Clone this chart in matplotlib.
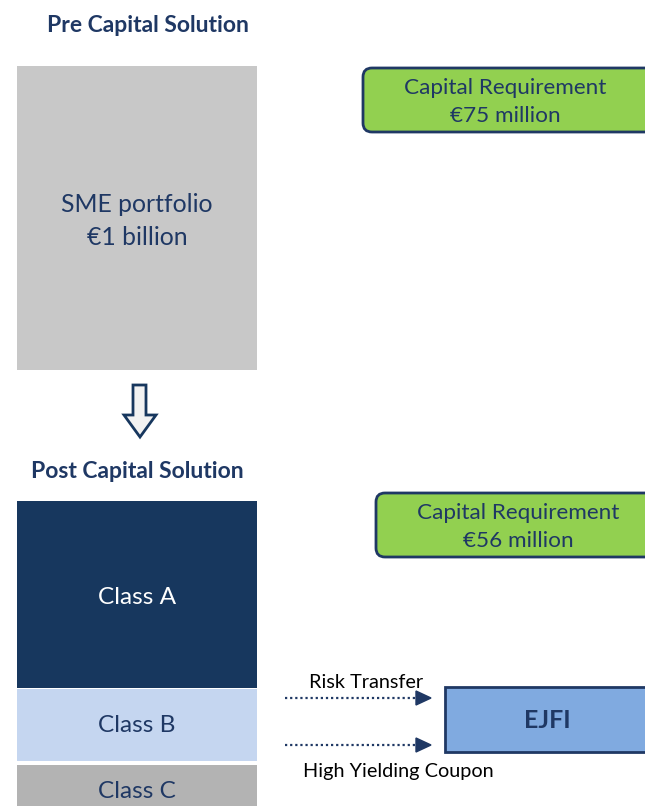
import matplotlib
matplotlib.use("Agg")
import matplotlib.pyplot as plt
from matplotlib.patches import Rectangle, FancyBboxPatch, Polygon

# ---- content ----
pre_title = "Pre Capital Solution"
post_title = "Post Capital Solution"
portfolio_label = ["SME portfolio", "€1 billion"]
capital_pre = 75
capital_post = 56
tranches = ["Class A", "Class B", "Class C"]
flows = ["Risk Transfer", "High Yielding Coupon"]
investor = "EJFI"

NAVY = "#1F3864"
DARK = "#17375E"
GREEN = "#92D050"
FONT = ["Lato", "DejaVu Sans"]

fig = plt.figure(figsize=(6.45, 8.06), dpi=100)
ax = fig.add_axes([0, 0, 1, 1])
ax.set_xlim(0, 645)
ax.set_ylim(806, 0)
ax.axis("off")

# titles
ax.text(148, 26, pre_title, ha="center", va="center", fontsize=16.5,
        fontweight="bold", color=NAVY, family=FONT)
ax.text(137, 471, post_title, ha="center", va="center", fontsize=16.5,
        fontweight="bold", color=NAVY, family=FONT)

# pre portfolio
ax.add_patch(Rectangle((17, 66), 240, 304, facecolor="#C8C8C8", edgecolor="none"))
ax.text(137, 221, "\n".join(portfolio_label), ha="center", va="center",
        fontsize=17.8, color=NAVY, family=FONT, linespacing=1.5)

# capital requirement boxes
def cap_box(x0, y0, w, h, value, cx):
    ax.add_patch(FancyBboxPatch((x0, y0), w, h,
                                boxstyle="round,pad=0,rounding_size=9",
                                facecolor=GREEN, edgecolor=NAVY, linewidth=2))
    ax.text(cx, y0 + h / 2 + 2, f"Capital Requirement\n€{value} million",
            ha="center", va="center", fontsize=16.2, color=NAVY, family=FONT,
            linespacing=1.45)

cap_box(363, 68, 300, 64, capital_pre, 505)
cap_box(376, 493, 300, 64, capital_post, 518)

# hollow down arrow
arrow = Polygon([(133, 385), (146, 385), (146, 415), (156, 415), (140, 437),
                 (124, 415), (133, 415)], closed=True,
                facecolor="#F2F2F2", edgecolor=DARK, linewidth=2)
ax.add_patch(arrow)

# tranches
tranche_geo = [(501, 187, DARK, "white", 597), (689, 72, "#C5D6F0", NAVY, 726),
               (765, 45, "#B3B3B3", NAVY, 791)]
for name, (y0, h, fc, tc, ty) in zip(tranches, tranche_geo):
    ax.add_patch(Rectangle((17, y0), 240, h, facecolor=fc, edgecolor="none"))
    ax.text(137, ty, name, ha="center", va="center", fontsize=17.6,
            color=tc, family=FONT)

# investor box
ax.add_patch(Rectangle((445, 687), 220, 65, facecolor="#80AAE0",
                       edgecolor=NAVY, linewidth=2))
ax.text(547, 721, investor, ha="center", va="center", fontsize=18,
        fontweight="bold", color=NAVY, family=FONT)

# flow arrows
for yy in (698, 745):
    ax.plot([285, 418], [yy, yy], linestyle=(0, (1, 1.3)), color=NAVY, lw=1.6)
    ax.add_patch(Polygon([(416, yy - 7), (431, yy), (416, yy + 7)],
                         closed=True, facecolor=NAVY, edgecolor=NAVY))

ax.text(366, 682, flows[0], ha="center", va="center", fontsize=14.3,
        color="black", family=FONT)
ax.text(398, 772, flows[1], ha="center", va="center", fontsize=14.3,
        color="black", family=FONT)

fig.savefig("out.png", dpi=100)
